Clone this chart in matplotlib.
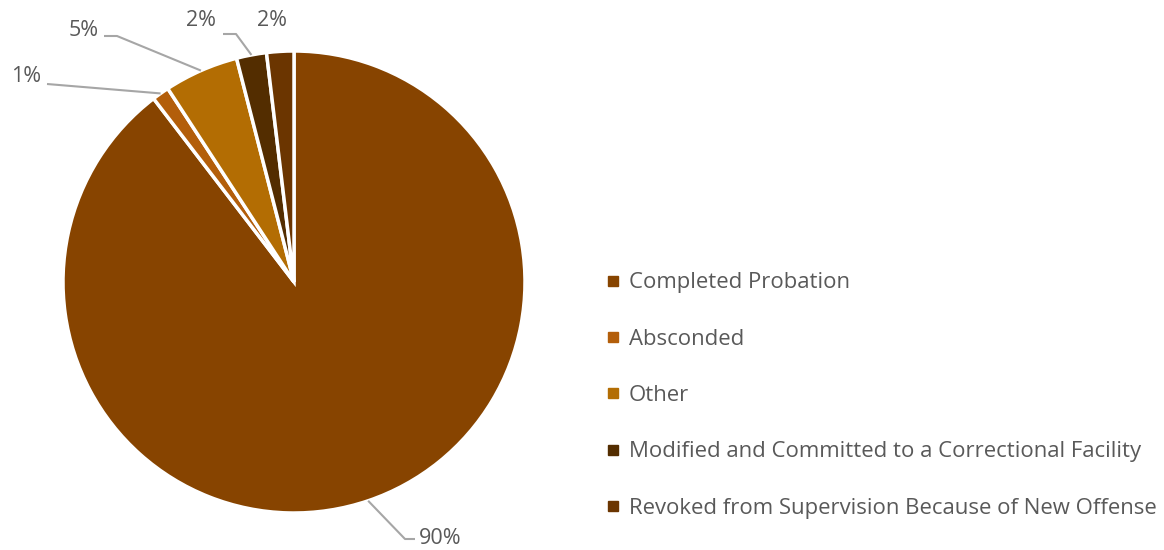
import matplotlib
matplotlib.use("Agg")
import matplotlib.pyplot as plt
from matplotlib.lines import Line2D
import numpy as np

categories = ['Completed Probation', 'Absconded', 'Other',
              'Modified and Committed to a Correctional Facility',
              'Revoked from Supervision Because of New Offense']
shares = [89.6, 1.2, 5.2, 2.1, 1.9]
colors = ['#874400', '#B35E0A', '#B36D03', '#532D00', '#6B3500']
pct_labels = ['{:.0f}%'.format(v) for v in shares]

plt.rcParams['font.family'] = ['Open Sans', 'DejaVu Sans']
text_color = '#595959'
line_color = '#A6A6A6'

fig = plt.figure(figsize=(11.64, 5.5), dpi=100)
ax = fig.add_axes([0, 0, 1, 1])

cx, cy, r = 294, 268, 231
wedges, _ = ax.pie(shares, colors=colors, startangle=90, counterclock=False,
                   center=(cx, cy), radius=r, frame=True,
                   wedgeprops=dict(edgecolor='white', linewidth=2.5))
ax.set_xlim(0, 1164)
ax.set_ylim(0, 550)
ax.set_aspect('equal')
ax.axis('off')

# label text positions (pixel layout) and leader elbows
label_pos = [(440, 11), (26, 474), (84, 520), (201, 529), (272, 529)]
elbows = [(405, 11), (47, 466), (117, 514), (236, 516), None]

for i, w in enumerate(wedges):
    ang = np.deg2rad((w.theta1 + w.theta2) / 2)
    ex, ey = cx + r * np.cos(ang), cy + r * np.sin(ang)
    tx, ty = label_pos[i]
    ax.text(tx, ty, pct_labels[i], ha='center', va='center',
            fontsize=15.5, color=text_color)
    if elbows[i] is not None:
        bx, by = elbows[i]
        if i == 1:
            xs, ys = [ex, bx], [ey, by]
        elif i == 0:
            xs, ys = [ex, bx, bx + 10], [ey, by, by]
        else:
            xs, ys = [ex, bx, bx - 13], [ey, by, by]
        ax.plot(xs, ys, color=line_color, lw=1.5, solid_capstyle='butt')

handles = [Line2D([0], [0], marker='s', linestyle='none', markersize=7,
                  markerfacecolor=c, markeredgecolor=c) for c in colors]
fig.legend(handles, categories, loc='center left', bbox_to_anchor=(0.503, 0.281),
           frameon=False, fontsize=15.9, labelcolor=text_color,
           labelspacing=1.6, handlelength=0.7, handletextpad=0.35)

fig.savefig('out.png', dpi=100, facecolor='white')
